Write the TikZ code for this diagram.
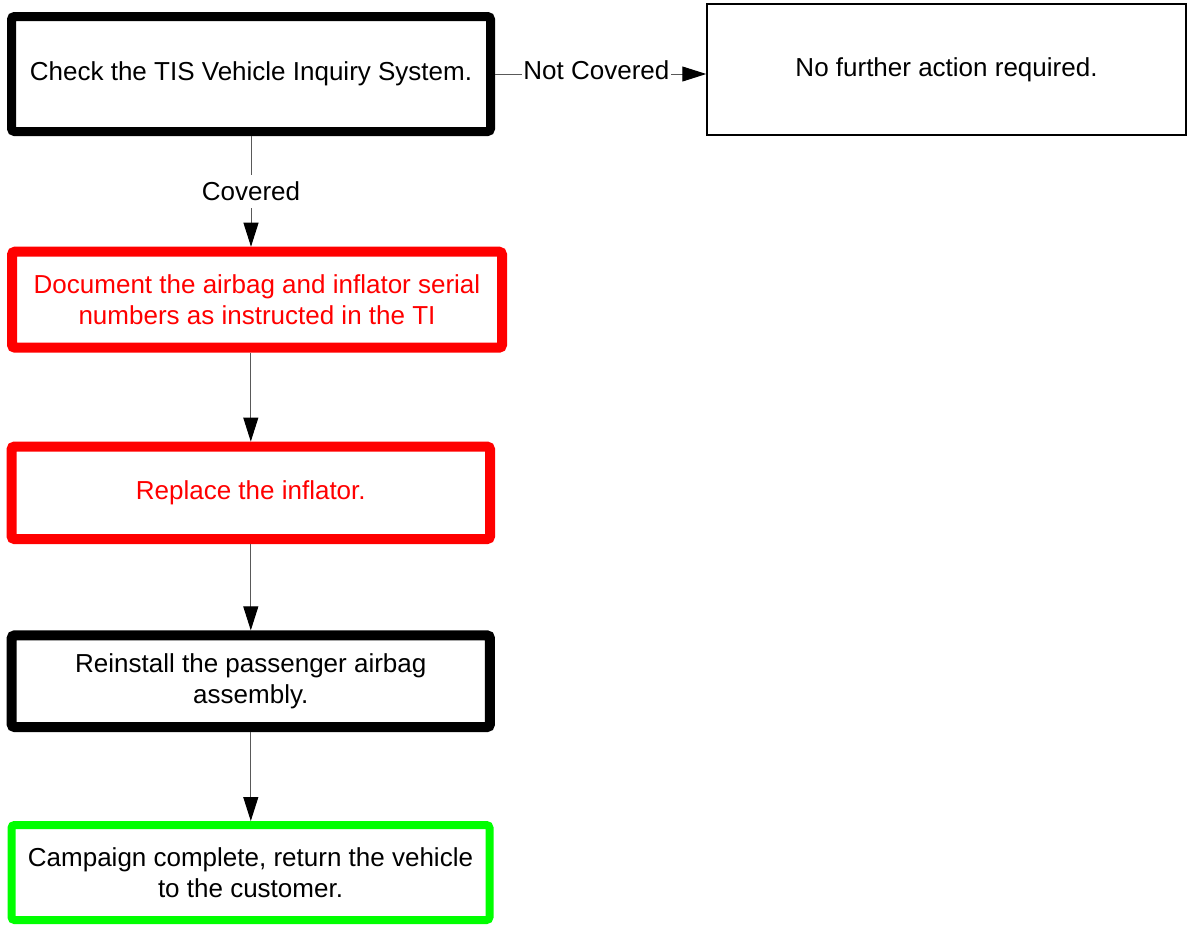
\documentclass[tikz,border=0pt]{standalone}
\usepackage{fontspec}
\setmainfont{Liberation Sans}
\usetikzlibrary{arrows.meta}

\definecolor{stepred}{RGB}{255,0,0}
\definecolor{stepgreen}{RGB}{0,255,0}

\begin{document}
\begin{tikzpicture}[x=1pt, y=-1pt,
  every node/.style={font=\fontsize{26}{31.5}\selectfont},
  thickbox/.style={draw, rectangle, rounded corners=3pt, align=center, inner sep=0pt},
  thinbox/.style={draw, rectangle, line width=1.5pt, align=center, inner sep=0pt},
  flow/.style={draw=black!65, line width=1pt, -{Triangle[length=24pt, width=15pt, color=black]}},
  lbl/.style={fill=white, inner xsep=1.5pt, inner ysep=7pt}]
\useasboundingbox (0,0) rectangle (1193,924);

\node[thickbox, line width=9pt, minimum width=479pt, minimum height=115pt] (check) at (251,74) {Check the TIS Vehicle Inquiry System.};
\node[thinbox, minimum width=479pt, minimum height=131pt] (noaction) at (946.5,69.5) {\raisebox{-1.5pt}{No further action required.}};
\node[thickbox, line width=10pt, draw=stepred, text=stepred, minimum width=490pt, minimum height=96pt] (document) at (257,299.7) {Document the airbag and inflator serial\\numbers as instructed in the TI};
\node[thickbox, line width=10pt, draw=stepred, text=stepred, minimum width=478.5pt, minimum height=92.5pt] (replace) at (250.8,492.8) {Replace the inflator.};
\node[thickbox, line width=10pt, minimum width=478.3pt, minimum height=91.7pt] (reinstall) at (250.8,681.2) {Reinstall the passenger airbag\\assembly.};
\node[thickbox, line width=8pt, draw=stepgreen, minimum width=478pt, minimum height=95pt] (campaign) at (250.5,872.5) {Campaign complete, return the vehicle\\to the customer.};

\draw[flow] (check.east) -- (check.east -| noaction.west) node[lbl, pos=0.48, yshift=4pt] {Not Covered};
\draw[flow] (check.south) -- (check.south |- document.north) node[lbl, midway] {Covered};
\draw[flow] (replace.north |- document.south) -- (replace.north);
\draw[flow] (replace.south) -- (reinstall.north);
\draw[flow] (reinstall.south) -- (reinstall.south |- campaign.north);
\end{tikzpicture}
\end{document}
